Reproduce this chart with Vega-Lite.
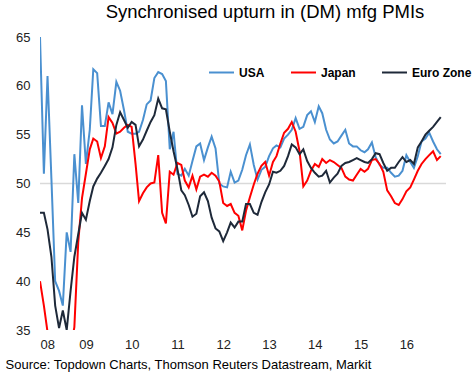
{
  "$schema": "https://vega.github.io/schema/vega-lite/v6.json",
  "width": 406,
  "height": 293,
  "autosize": {"type": "none"},
  "padding": {"left": 40, "top": 37, "right": 27, "bottom": 47},
  "background": "white",
  "config": {"view": {"stroke": null}, "font": "Liberation Sans"},
  "title": {"text": "Synchronised upturn in (DM) mfg PMIs", "fontSize": 18.5, "fontWeight": "normal", "color": "#000000", "anchor": "middle", "dx": 22, "offset": 10, "font": "Liberation Sans"},
  "layer": [
    {
      "data": {"values": [{"level": 50}]},
      "mark": {"type": "rule", "color": "#D9D9D9", "strokeWidth": 1.5},
      "encoding": {"y": {"field": "level", "type": "quantitative", "scale": {"domain": [35, 65]},
                   "axis": {"values": [35, 40, 45, 50, 55, 60, 65], "grid": false, "domain": false, "ticks": false, "title": null,
                   "labelFontSize": 13, "labelColor": "#222222", "labelPadding": 10, "labelFont": "Liberation Sans"}}}
    },
    {
      "data": {"values": [
        {"d":"2008-01-01","USA":65,"Japan":40,"Euro Zone":47},
        {"d":"2008-02-01","USA":51,"Japan":37.5,"Euro Zone":47},
        {"d":"2008-03-01","USA":61,"Japan":34.8,"Euro Zone":45.3},
        {"d":"2008-04-01","USA":50.5,"Japan":32,"Euro Zone":42.5},
        {"d":"2008-05-01","USA":40,"Japan":30.5,"Euro Zone":37.5},
        {"d":"2008-06-01","USA":39,"Japan":30,"Euro Zone":35.2},
        {"d":"2008-07-01","USA":37.5,"Japan":30,"Euro Zone":37},
        {"d":"2008-08-01","USA":45,"Japan":31,"Euro Zone":35},
        {"d":"2008-09-01","USA":43,"Japan":33,"Euro Zone":39},
        {"d":"2008-10-01","USA":53,"Japan":35.3,"Euro Zone":42.5},
        {"d":"2008-11-01","USA":48,"Japan":44,"Euro Zone":44.8},
        {"d":"2008-12-01","USA":58,"Japan":48.5,"Euro Zone":47},
        {"d":"2009-01-01","USA":52,"Japan":51,"Euro Zone":46.3},
        {"d":"2009-02-01","USA":55.5,"Japan":53.5,"Euro Zone":48.2},
        {"d":"2009-03-01","USA":61.7,"Japan":54.6,"Euro Zone":49.7},
        {"d":"2009-04-01","USA":61.3,"Japan":54.3,"Euro Zone":50.5},
        {"d":"2009-05-01","USA":55.9,"Japan":52.6,"Euro Zone":51.1},
        {"d":"2009-06-01","USA":55.9,"Japan":53.8,"Euro Zone":51.8},
        {"d":"2009-07-01","USA":58.3,"Japan":56.8,"Euro Zone":52.5},
        {"d":"2009-08-01","USA":57.1,"Japan":56.2,"Euro Zone":53.7},
        {"d":"2009-09-01","USA":60.4,"Japan":55.1,"Euro Zone":56},
        {"d":"2009-10-01","USA":59.5,"Japan":55.3,"Euro Zone":57.3},
        {"d":"2009-11-01","USA":57.5,"Japan":55.7,"Euro Zone":56.5},
        {"d":"2009-12-01","USA":55.3,"Japan":56,"Euro Zone":55.7},
        {"d":"2010-01-01","USA":55.1,"Japan":55.8,"Euro Zone":56.3},
        {"d":"2010-02-01","USA":55.1,"Japan":52,"Euro Zone":56},
        {"d":"2010-03-01","USA":55.3,"Japan":48.2,"Euro Zone":53.8},
        {"d":"2010-04-01","USA":56.5,"Japan":49,"Euro Zone":54.5},
        {"d":"2010-05-01","USA":58.1,"Japan":49.6,"Euro Zone":55.4},
        {"d":"2010-06-01","USA":58.5,"Japan":50,"Euro Zone":56.3},
        {"d":"2010-07-01","USA":60.8,"Japan":50.1,"Euro Zone":57},
        {"d":"2010-08-01","USA":61.4,"Japan":52.9,"Euro Zone":58.7},
        {"d":"2010-09-01","USA":61.2,"Japan":47,"Euro Zone":57.7},
        {"d":"2010-10-01","USA":60.5,"Japan":45.9,"Euro Zone":57.6},
        {"d":"2010-11-01","USA":53.5,"Japan":51.2,"Euro Zone":55.3},
        {"d":"2010-12-01","USA":55.3,"Japan":50.9,"Euro Zone":53.3},
        {"d":"2011-01-01","USA":51,"Japan":52.1,"Euro Zone":51.5},
        {"d":"2011-02-01","USA":50.8,"Japan":51.9,"Euro Zone":49.3},
        {"d":"2011-03-01","USA":51.5,"Japan":50.3,"Euro Zone":48.8},
        {"d":"2011-04-01","USA":50.8,"Japan":49.6,"Euro Zone":47.8},
        {"d":"2011-05-01","USA":52.3,"Japan":50.8,"Euro Zone":46.6},
        {"d":"2011-06-01","USA":53.8,"Japan":49.4,"Euro Zone":46.9},
        {"d":"2011-07-01","USA":54.1,"Japan":50.7,"Euro Zone":48.7},
        {"d":"2011-08-01","USA":52.4,"Japan":50.9,"Euro Zone":49.1},
        {"d":"2011-09-01","USA":53.7,"Japan":50.7,"Euro Zone":48.2},
        {"d":"2011-10-01","USA":54.8,"Japan":51.1,"Euro Zone":46.5},
        {"d":"2011-11-01","USA":53.6,"Japan":50.8,"Euro Zone":45.4},
        {"d":"2011-12-01","USA":50,"Japan":50.2,"Euro Zone":45.1},
        {"d":"2012-01-01","USA":49.7,"Japan":48,"Euro Zone":44.1},
        {"d":"2012-02-01","USA":49.6,"Japan":47.7,"Euro Zone":45},
        {"d":"2012-03-01","USA":51.2,"Japan":47.9,"Euro Zone":46},
        {"d":"2012-04-01","USA":50.1,"Japan":47,"Euro Zone":45.5},
        {"d":"2012-05-01","USA":50.3,"Japan":46.7,"Euro Zone":46.1},
        {"d":"2012-06-01","USA":51.4,"Japan":45.2,"Euro Zone":46.1},
        {"d":"2012-07-01","USA":52.9,"Japan":47.2,"Euro Zone":47.9},
        {"d":"2012-08-01","USA":54,"Japan":48.6,"Euro Zone":47.9},
        {"d":"2012-09-01","USA":51.9,"Japan":49.9,"Euro Zone":47},
        {"d":"2012-10-01","USA":50.4,"Japan":51,"Euro Zone":46.8},
        {"d":"2012-11-01","USA":51.4,"Japan":51.8,"Euro Zone":48.1},
        {"d":"2012-12-01","USA":51.7,"Japan":52.2,"Euro Zone":49.1},
        {"d":"2013-01-01","USA":52.8,"Japan":50.8,"Euro Zone":49.9},
        {"d":"2013-02-01","USA":53.6,"Japan":52.2,"Euro Zone":51.2},
        {"d":"2013-03-01","USA":53.9,"Japan":52.8,"Euro Zone":51.1},
        {"d":"2013-04-01","USA":53.7,"Japan":54.1,"Euro Zone":51.3},
        {"d":"2013-05-01","USA":54.6,"Japan":55.2,"Euro Zone":51.8},
        {"d":"2013-06-01","USA":55,"Japan":55.6,"Euro Zone":52.8},
        {"d":"2013-07-01","USA":55.5,"Japan":56.3,"Euro Zone":54},
        {"d":"2013-08-01","USA":56.7,"Japan":55.3,"Euro Zone":53.7},
        {"d":"2013-09-01","USA":55.6,"Japan":53.3,"Euro Zone":53},
        {"d":"2013-10-01","USA":55.8,"Japan":49.7,"Euro Zone":53.5},
        {"d":"2013-11-01","USA":57,"Japan":50.3,"Euro Zone":52.3},
        {"d":"2013-12-01","USA":57.4,"Japan":51.3,"Euro Zone":51.6},
        {"d":"2014-01-01","USA":56.3,"Japan":52,"Euro Zone":51.1},
        {"d":"2014-02-01","USA":57.9,"Japan":51.7,"Euro Zone":50.7},
        {"d":"2014-03-01","USA":57.2,"Japan":52.5,"Euro Zone":50.8},
        {"d":"2014-04-01","USA":55.5,"Japan":52.1,"Euro Zone":51.3},
        {"d":"2014-05-01","USA":54.5,"Japan":52.4,"Euro Zone":50.1},
        {"d":"2014-06-01","USA":54.1,"Japan":52.2,"Euro Zone":50.6},
        {"d":"2014-07-01","USA":54.3,"Japan":51.9,"Euro Zone":51},
        {"d":"2014-08-01","USA":54.9,"Japan":51.6,"Euro Zone":51.8},
        {"d":"2014-09-01","USA":55.5,"Japan":50.7,"Euro Zone":52.1},
        {"d":"2014-10-01","USA":54.1,"Japan":50.4,"Euro Zone":52.2},
        {"d":"2014-11-01","USA":53.8,"Japan":50.3,"Euro Zone":52.4},
        {"d":"2014-12-01","USA":53.8,"Japan":50.9,"Euro Zone":52.6},
        {"d":"2015-01-01","USA":53.4,"Japan":51.5,"Euro Zone":52.4},
        {"d":"2015-02-01","USA":53.2,"Japan":51.2,"Euro Zone":52.2},
        {"d":"2015-03-01","USA":53.5,"Japan":51.5,"Euro Zone":52.1},
        {"d":"2015-04-01","USA":54.2,"Japan":52.4,"Euro Zone":52.5},
        {"d":"2015-05-01","USA":52.7,"Japan":52.5,"Euro Zone":53.1},
        {"d":"2015-06-01","USA":51.9,"Japan":52,"Euro Zone":53},
        {"d":"2015-07-01","USA":51.6,"Japan":51.2,"Euro Zone":52.1},
        {"d":"2015-08-01","USA":51.6,"Japan":49.3,"Euro Zone":51.3},
        {"d":"2015-09-01","USA":51.1,"Japan":48.7,"Euro Zone":51.6},
        {"d":"2015-10-01","USA":50.7,"Japan":48,"Euro Zone":51.6},
        {"d":"2015-11-01","USA":50.8,"Japan":47.8,"Euro Zone":52.2},
        {"d":"2015-12-01","USA":51.3,"Japan":48.4,"Euro Zone":52.7},
        {"d":"2016-01-01","USA":52.9,"Japan":49.2,"Euro Zone":52.2},
        {"d":"2016-02-01","USA":52.2,"Japan":49.6,"Euro Zone":52.4},
        {"d":"2016-03-01","USA":51.6,"Japan":50.4,"Euro Zone":52},
        {"d":"2016-04-01","USA":52.8,"Japan":51.3,"Euro Zone":53.7},
        {"d":"2016-05-01","USA":54.3,"Japan":52,"Euro Zone":54.3},
        {"d":"2016-06-01","USA":54.6,"Japan":52.5,"Euro Zone":55},
        {"d":"2016-07-01","USA":55.2,"Japan":52.9,"Euro Zone":55.4},
        {"d":"2016-08-01","USA":54.3,"Japan":53.3,"Euro Zone":55.8},
        {"d":"2016-09-01","USA":53.5,"Japan":52.4,"Euro Zone":56.3},
        {"d":"2016-10-01","USA":53,"Japan":52.8,"Euro Zone":56.8}
      ]},
      "transform": [{"fold": ["USA", "Japan", "Euro Zone"], "as": ["series", "value"]}],
      "mark": {"type": "line", "strokeWidth": 2, "clip": true},
      "encoding": {
        "x": {
          "field": "d", "type": "temporal",
          "scale": {"type": "utc", "domain": [{"year": 2008, "month": 1, "date": 1, "utc": true}, {"year": 2016, "month": 11, "date": 12, "utc": true}]},
          "axis": {
            "format": "%y", "tickCount": {"interval": "year", "step": 1},
            "grid": false, "domain": false, "ticks": false,
            "labelFontSize": 13, "labelColor": "#222222", "labelPadding": 8, "labelFont": "Liberation Sans",
            "title": "Source: Topdown Charts, Thomson Reuters Datastream, Markit",
            "titleFontSize": 13, "titleFontWeight": "normal", "titleColor": "#000000", "titleFont": "Liberation Sans",
            "titleAnchor": "start", "titleAlign": "left", "titleX": -35, "titleY": 34, "titleBaseline": "middle"
          }
        },
        "y": {
          "field": "value", "type": "quantitative",
          "scale": {"domain": [35, 65]},
          "axis": {"values": [35, 40, 45, 50, 55, 60, 65], "grid": false, "domain": false, "ticks": false, "title": null,
                   "labelFontSize": 13, "labelColor": "#222222", "labelPadding": 10, "labelFont": "Liberation Sans"}
        },
        "color": {
          "field": "series", "type": "nominal",
          "scale": {"domain": ["USA", "Japan", "Euro Zone"], "range": ["#4A90D0", "#FF0000", "#1E2939"]},
          "legend": {"orient": "none", "legendX": 168, "legendY": 22, "direction": "horizontal", "title": null,
                     "symbolType": "stroke", "symbolSize": 625, "symbolStrokeWidth": 2, "gridAlign": "none",
                     "labelFontSize": 12, "labelFontWeight": "bold", "labelColor": "#000000", "labelFont": "Liberation Sans",
                     "columnPadding": 22, "labelOffset": 4}
        }
      }
    }
  ]
}
